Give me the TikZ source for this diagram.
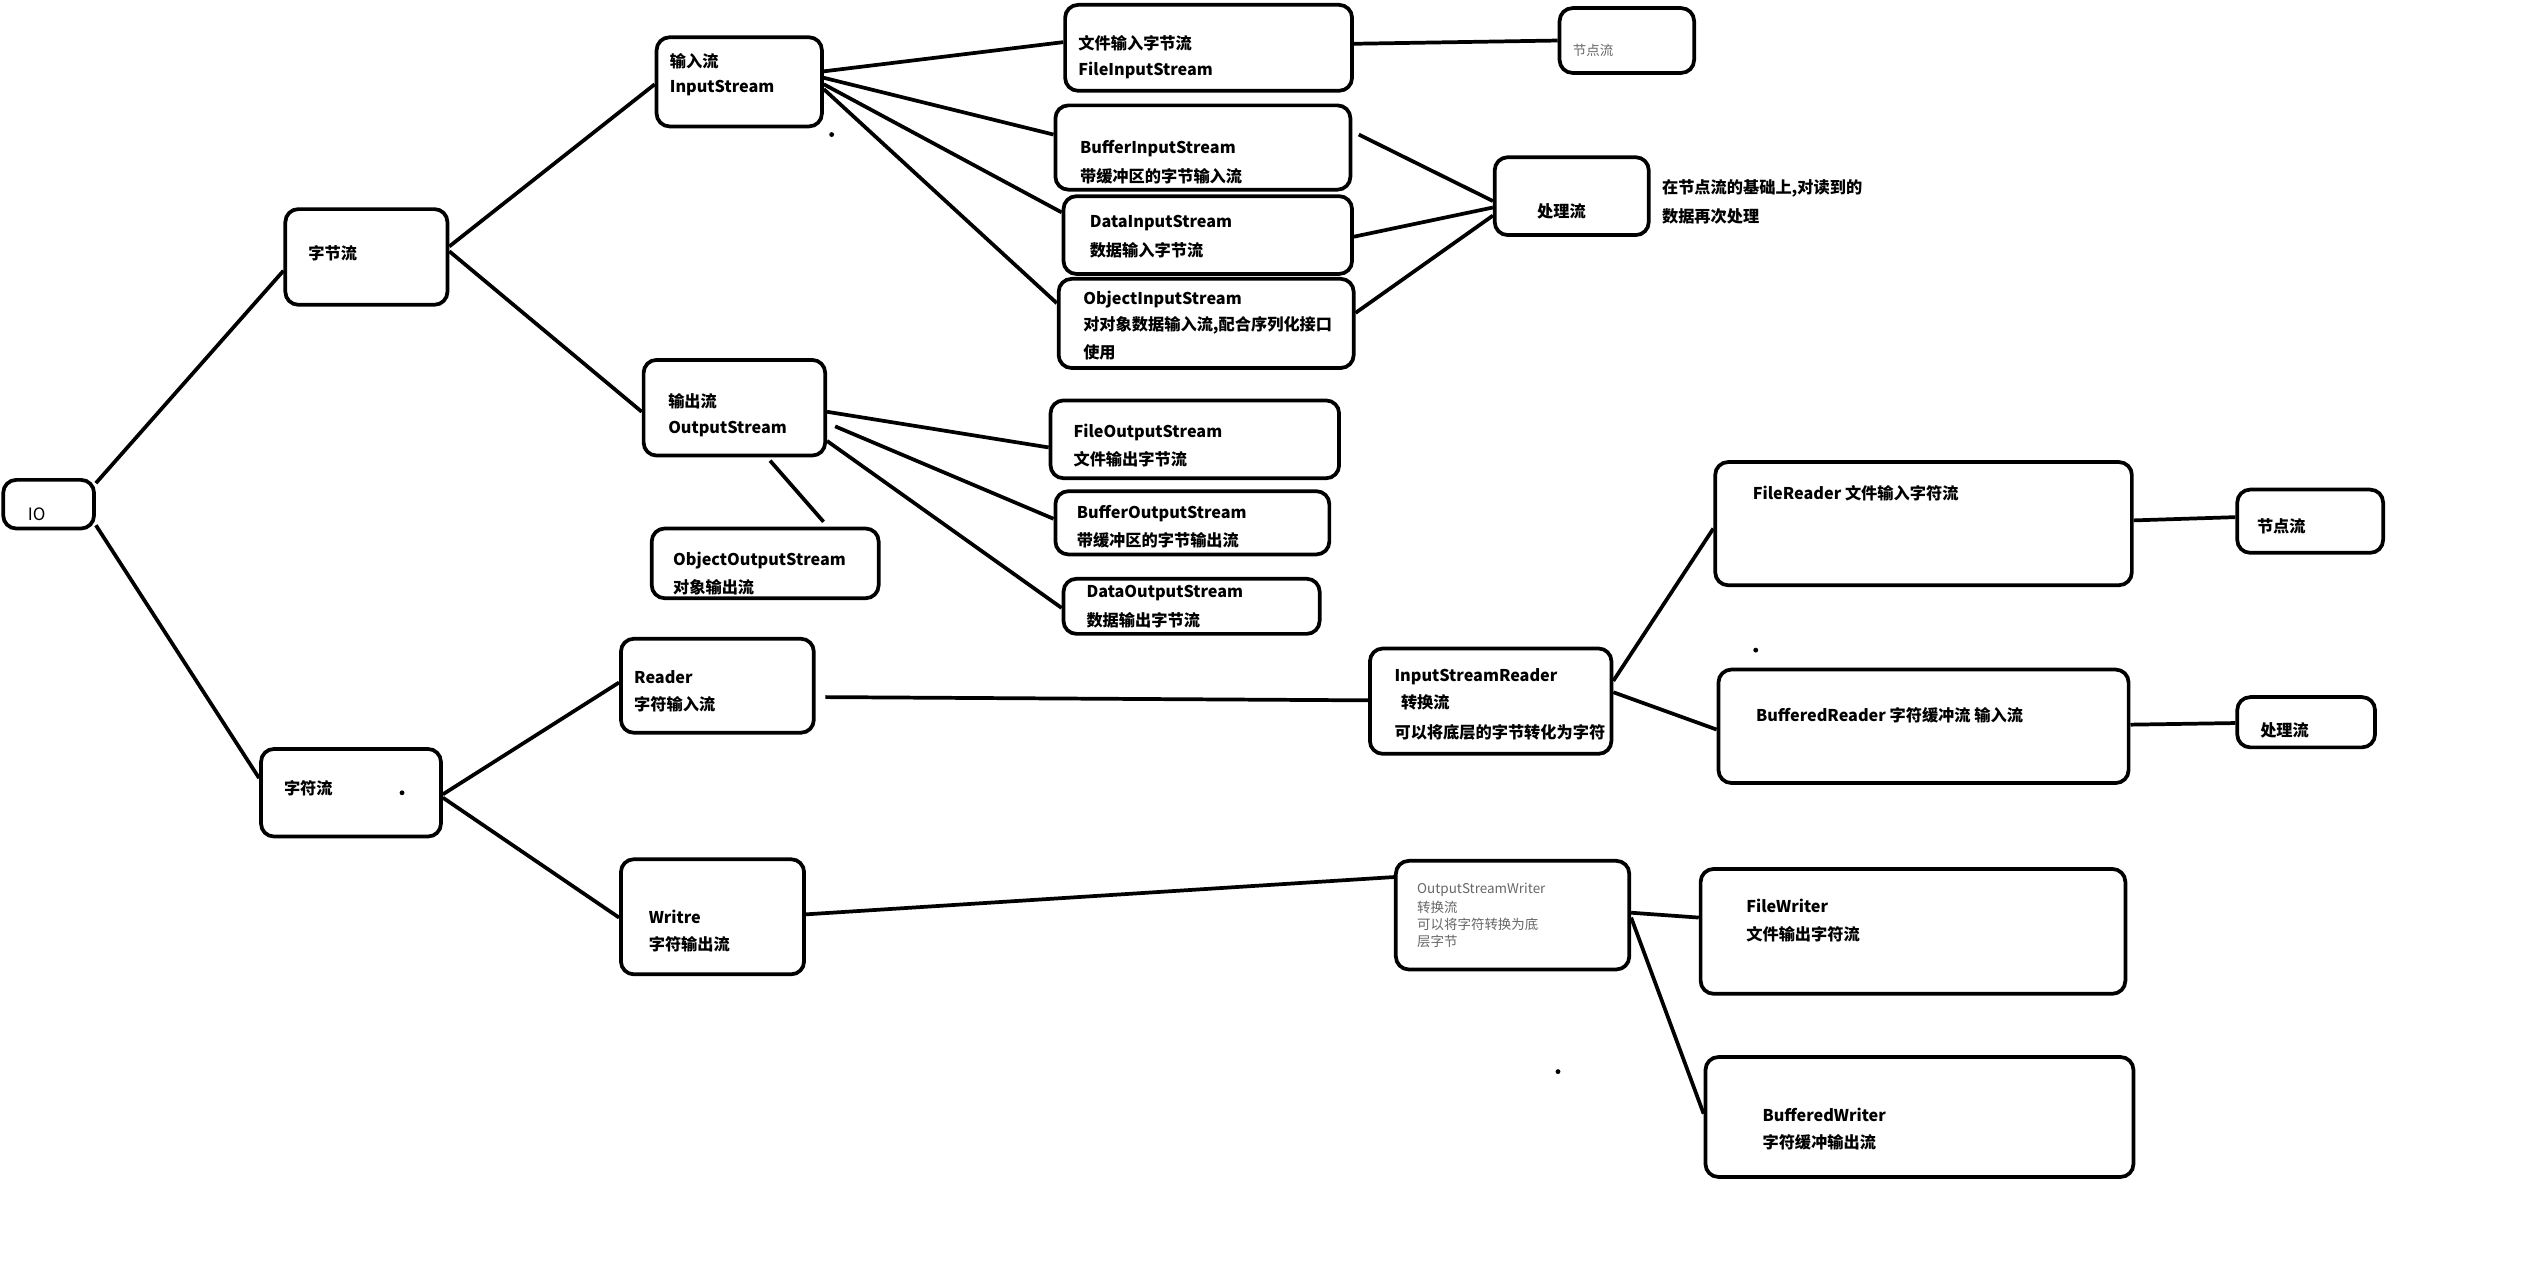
\documentclass[tikz,border=0pt]{standalone}
\usepackage{fontspec}
\setmainfont{Noto Sans CJK SC}
\tikzset{
 bx/.style={draw, line width=2.3pt, rounded corners=8pt, inner sep=0pt},
 ln/.style={line width=2.3pt},
 tb/.style={anchor=west, inner sep=0pt, yshift=-1.5pt, font=\fontsize{10}{12}\selectfont\bfseries},
 tn/.style={anchor=west, inner sep=0pt, yshift=-1.5pt, font=\fontsize{10.5}{12}\selectfont},
 tg/.style={anchor=west, inner sep=0pt, yshift=-1pt, font=\fontsize{8.3}{10}\selectfont, text=black!60},
 dt/.style={fill=black, circle, inner sep=0pt, minimum size=3pt},
}
\newcommand\bxx[5]{\node[bx, minimum width={(#4-#2)*1pt}, minimum height={(#5-#3)*1pt}] (#1) at ({(#2+#4)/2},{(#3+#5)/2}) {};}
\begin{document}
\begin{tikzpicture}[x=1pt,y=-1pt]
\fill[white] (0,0) rectangle (1568,778);
\useasboundingbox (0,0) rectangle (1568,778);
% boxes
\bxx{io}{2}{296}{58}{326}
\bxx{zj}{176}{129}{276}{188}
\bxx{in}{405}{23}{507}{78}
\bxx{out}{397}{222}{509}{281}
\bxx{oos}{402}{326}{542}{369}
\bxx{rd}{383}{394}{502}{452}
\bxx{zf}{161}{462}{272}{516}
\bxx{wr}{383}{530}{496}{601}
\bxx{fis}{657}{3}{834}{56}
\bxx{nd1}{962}{5}{1045}{45}
\bxx{bis}{651}{65}{833}{117}
\bxx{dis}{656}{121}{834}{169}
\bxx{ois}{653}{172}{835}{227}
\bxx{cl1}{922}{97}{1017}{145}
\bxx{fos}{648}{247}{826}{295}
\bxx{bos}{651}{303}{820}{342}
\bxx{dos}{656}{357}{814}{391}
\bxx{isr}{845}{400}{994}{465}
\bxx{frd}{1058}{285}{1315}{361}
\bxx{nd2}{1380}{302}{1470}{341}
\bxx{brd}{1060}{413}{1313}{483}
\bxx{cl2}{1380}{430}{1465}{461}
\bxx{osw}{861}{531}{1005}{598}
\bxx{fw}{1049}{536}{1311}{613}
\bxx{bw}{1052}{652}{1316}{726}
% texts
\node[tn] (t-io) at (17,316) {IO};
\node[tb] (t-zj) at (190,155) {字节流};
\node[tb] (t-in1) at (413,36) {输入流};
\node[tb] (t-in2) at (413,53) {InputStream};
\node[tb] (t-out1) at (412,246) {输出流};
\node[tb] (t-out2) at (412,263) {OutputStream};
\node[tb] (t-oos1) at (415,344) {ObjectOutputStream};
\node[tb] (t-oos2) at (415,361) {对象输出流};
\node[tb] (t-rd1) at (391,416) {Reader};
\node[tb] (t-rd2) at (391,433) {字符输入流};
\node[tb] (t-zf) at (175,485) {字符流};
\node[tb] (t-wr1) at (400,564) {Writre};
\node[tb] (t-wr2) at (400,581) {字符输出流};
\node[tb] (t-fis1) at (665,25) {文件输入字节流};
\node[tb] (t-fis2) at (665,42) {FileInputStream};
\node[tg] (t-nd1) at (970,30) {节点流};
\node[tb] (t-bis1) at (666,90) {BufferInputStream};
\node[tb] (t-bis2) at (666,107) {带缓冲区的字节输入流};
\node[tb] (t-dis1) at (672,136) {DataInputStream};
\node[tb] (t-dis2) at (672,153) {数据输入字节流};
\node[tb] (t-ois1) at (668,183) {ObjectInputStream};
\node[tb] (t-ois2) at (668,199) {对对象数据输入流,配合序列化接口};
\node[tb] (t-ois3) at (668,216) {使用};
\node[tb] (t-cl1) at (948,129) {处理流};
\node[tb] (t-ann1) at (1025,115) {在节点流的基础上,对读到的};
\node[tb] (t-ann2) at (1025,132) {数据再次处理};
\node[tb] (t-fos1) at (662,265) {FileOutputStream};
\node[tb] (t-fos2) at (662,282) {文件输出字节流};
\node[tb] (t-bos1) at (664,315) {BufferOutputStream};
\node[tb] (t-bos2) at (664,332) {带缓冲区的字节输出流};
\node[tb] (t-dos1) at (670,364) {DataOutputStream};
\node[tb] (t-dos2) at (670,381) {数据输出字节流};
\node[tb] (t-isr1) at (860,416) {InputStreamReader};
\node[tb] (t-isr2) at (864,432) {转换流};
\node[tb] (t-isr3) at (860,450) {可以将底层的字节转化为字符};
\node[tb] (t-frd) at (1081,303) {FileReader 文件输入字符流};
\node[tb] (t-nd2) at (1392,323) {节点流};
\node[tb] (t-brd) at (1083,440) {BufferedReader 字符缓冲流 输入流};
\node[tb] (t-cl2) at (1394,449) {处理流};
\node[tg] (t-osw1) at (874,548) {OutputStreamWriter};
\node[tg] (t-osw2) at (874,558.5) {转换流};
\node[tg] (t-osw3) at (874,569) {可以将字符转换为底};
\node[tg] (t-osw4) at (874,579.5) {层字节};
\node[tb] (t-fw1) at (1077,557) {FileWriter};
\node[tb] (t-fw2) at (1077,575) {文件输出字符流};
\node[tb] (t-bw1) at (1087,686) {BufferedWriter};
\node[tb] (t-bw2) at (1087,703) {字符缓冲输出流};
% stray dots
\node[dt] (d1) at (513,83) {};
\node[dt] (d2) at (248,489) {};
\node[dt] (d3) at (1083,401) {};
\node[dt] (d4) at (961,661) {};
% connectors
\draw[ln] ([yshift=13pt]io.east) -- ([yshift=-8.5pt]zj.west);
\draw[ln] ([yshift=-13pt]io.east) -- ([yshift=9pt]zf.west);
\draw[ln] ([yshift=6.5pt]zj.east) -- ([yshift=-1.5pt]in.west);
\draw[ln] ([yshift=3.5pt]zj.east) -- ([yshift=-2.5pt]out.west);
\draw[ln] ([yshift=6.5pt]in.east) -- ([yshift=3.5pt]fis.west);
\draw[ln] ([yshift=2.5pt]in.east) -- ([yshift=8pt]bis.west);
\draw[ln] ([yshift=-1.5pt]in.east) -- ([yshift=14pt]dis.west);
\draw[ln] ([yshift=-4.5pt]in.east) -- ([yshift=12.5pt]ois.west);
\draw[ln] ([yshift=2.5pt]fis.east) -- (nd1.west);
\draw[ln] ([xshift=4pt,yshift=8pt]bis.east) -- ([yshift=-3pt]cl1.west);
\draw[ln] ([yshift=-1pt]dis.east) -- ([yshift=-7pt]cl1.west);
\draw[ln] ([yshift=6.5pt]ois.east) -- ([yshift=-12pt]cl1.west);
\draw[ln] ([yshift=-2.5pt]out.east) -- ([yshift=-5pt]fos.west);
\draw[ln] ([xshift=5pt,yshift=-11.5pt]out.east) -- ([yshift=2.5pt]bos.west);
\draw[ln] ([yshift=-20.5pt]out.east) -- ([yshift=-1pt]dos.west);
\draw[ln] ([xshift=22pt,yshift=-2pt]out.south) -- ([xshift=36pt,yshift=3pt]oos.north);
\draw[ln] ([yshift=-1pt]zf.east) -- ([yshift=2pt]rd.west);
\draw[ln] ([yshift=-3pt]zf.east) -- ([yshift=-0.5pt]wr.west);
\draw[ln] ([xshift=6pt,yshift=-7pt]rd.east) -- ([yshift=0.5pt]isr.west);
\draw[ln] ([yshift=1.5pt]wr.east) -- ([yshift=23.5pt]osw.west);
\draw[ln] ([yshift=12.5pt]isr.east) -- ([yshift=-3pt]frd.west);
\draw[ln] ([yshift=5.5pt]isr.east) -- ([yshift=-2pt]brd.west);
\draw[ln] ([yshift=2pt]frd.east) -- ([yshift=2.5pt]nd2.west);
\draw[ln] ([yshift=1pt]brd.east) -- ([yshift=-0.5pt]cl2.west);
\draw[ln] ([yshift=1.5pt]osw.east) -- ([yshift=8.5pt]fw.west);
\draw[ln] ([yshift=-1.5pt]osw.east) -- ([yshift=2pt]bw.west);
\end{tikzpicture}
\end{document}
